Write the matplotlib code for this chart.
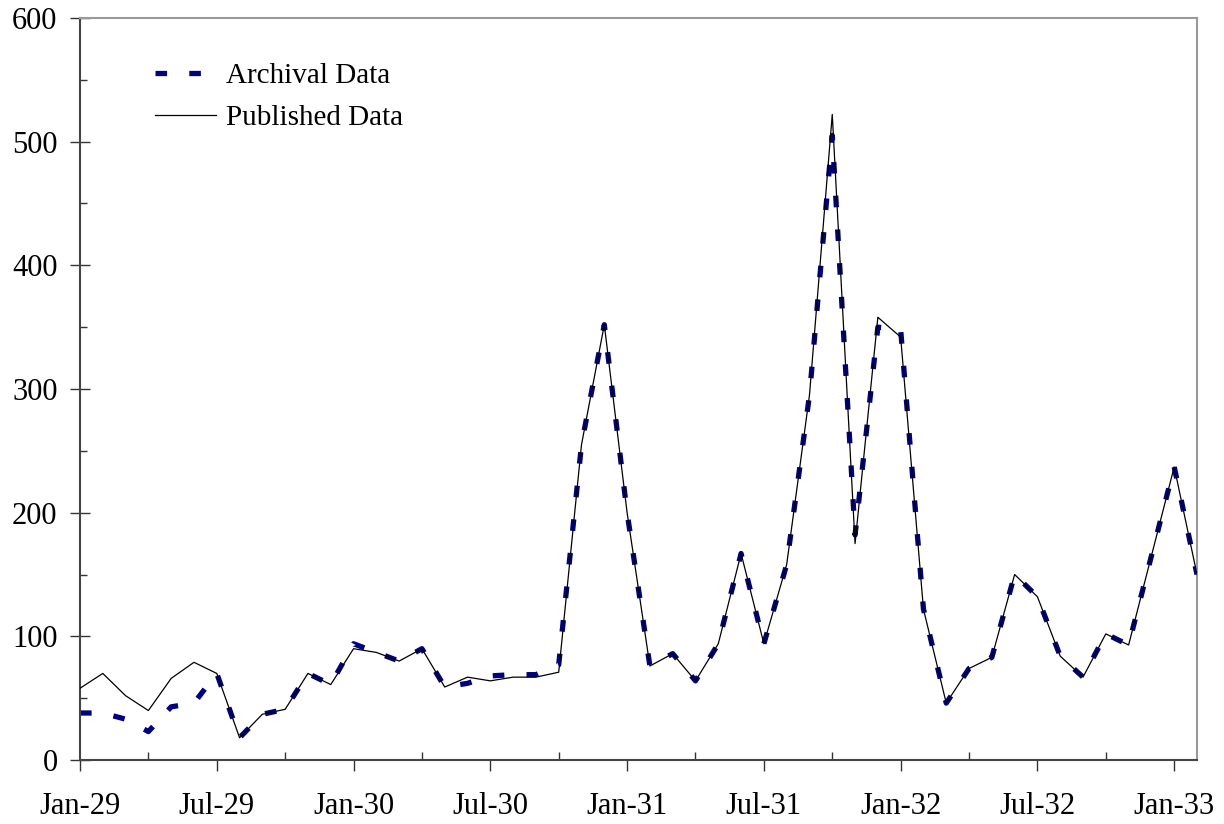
import matplotlib
matplotlib.use("Agg")
import matplotlib.pyplot as plt
from matplotlib.ticker import MultipleLocator, FixedLocator

plt.rcParams['font.family'] = ['Liberation Serif', 'DejaVu Serif']

# monthly values, Jan-1929 .. Feb-1933
published = [58, 70, 52, 40, 66, 79, 70, 18, 37, 41, 70, 61,
             90, 87, 80, 90, 59, 67, 64, 67, 67, 71, 255, 352,
             200, 76, 86, 64, 94, 167, 94, 158, 295, 522, 175, 358,
             342, 122, 46, 74, 83, 150, 132, 84, 67, 102, 93, 165,
             237, 150]
archival = [38, 38, 33, 23, 43, 46, 70, 18, 37, 41, 70, 61,
            94, 87, 80, 90, 59, 62, 68, 69, 69, 77, 255, 352,
            200, 76, 86, 64, 94, 167, 94, 158, 295, 505, 182, 350,
            348, 122, 46, 74, 83, 150, 132, 84, 67, 102, 93, 165,
            237, 150]
tick_labels = ['Jan-29', 'Jul-29', 'Jan-30', 'Jul-30', 'Jan-31',
               'Jul-31', 'Jan-32', 'Jul-32', 'Jan-33']

months = list(range(len(published)))

fig = plt.figure(figsize=(12.24, 8.24), dpi=100)
ax = fig.add_axes([80/1224, 1 - 760/824, 1117/1224, 742/824])

ax.plot(months, archival, color='#000080', linewidth=3.8,
        dashes=(2.2, 4.2), dash_capstyle='butt', label='Archival Data', zorder=2)
ax.plot(months, published, color='black', linewidth=0.9,
        label='Published Data', zorder=3)

ax.set_xlim(0, 49)
ax.set_ylim(0, 600)

ax.xaxis.set_major_locator(FixedLocator(range(0, 49, 6)))
ax.set_xticklabels(tick_labels)
ax.xaxis.set_minor_locator(FixedLocator(range(3, 49, 6)))
ax.yaxis.set_major_locator(MultipleLocator(100))
ax.yaxis.set_minor_locator(MultipleLocator(50))

ax.tick_params(axis='x', which='major', direction='out', length=8, width=1,
               color='#333333', labelsize=22, pad=15)
ax.tick_params(axis='x', which='minor', direction='in', length=6, width=1,
               color='#333333')
ax.tick_params(axis='y', which='major', direction='inout', length=14.4, width=1,
               color='#333333', labelsize=22, pad=9)
ax.tick_params(axis='y', which='minor', direction='in', length=5, width=1,
               color='#333333')

for side in ['left', 'bottom']:
    ax.spines[side].set_color('#444444')
    ax.spines[side].set_linewidth(1.5)
for side in ['top', 'right']:
    ax.spines[side].set_color('#999999')
    ax.spines[side].set_linewidth(1.5)

ax.legend(loc='upper left', bbox_to_anchor=(0.067, 0.940), frameon=False,
          fontsize=21, handlelength=2.1, handletextpad=0.35,
          labelspacing=0.53, borderpad=0, borderaxespad=0)

fig.savefig('out.png', dpi=100)
plt.close(fig)
